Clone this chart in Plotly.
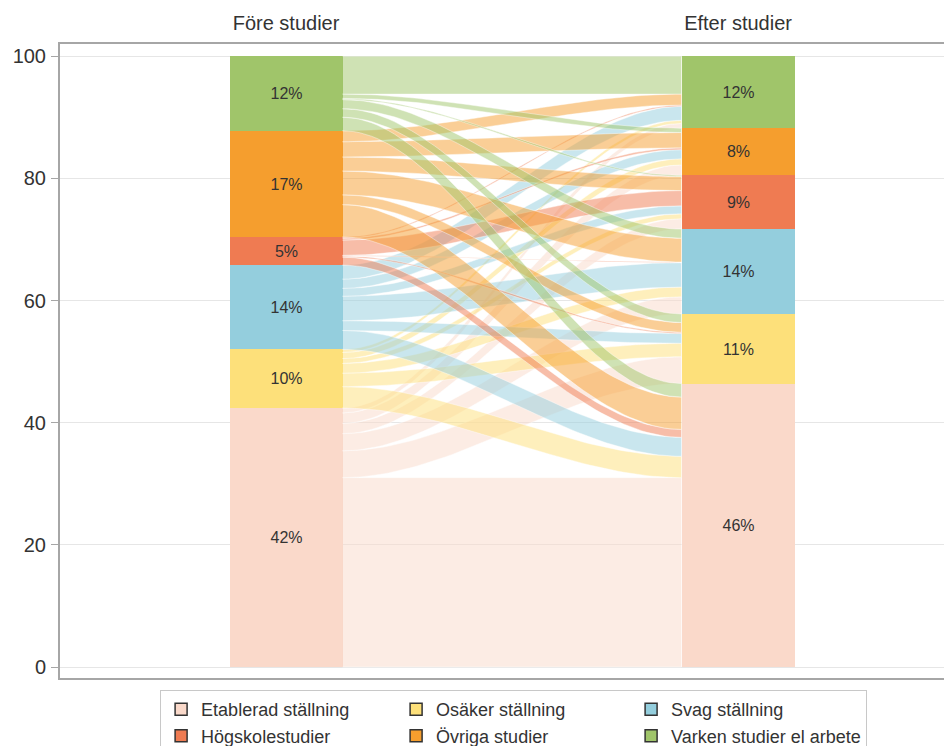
import numpy as np
import plotly.graph_objects as go

# ---------------- data ----------------
categories = ["Etablerad ställning", "Osäker ställning", "Svag ställning",
              "Högskolestudier", "Övriga studier", "Varken studier el arbete"]
stage_labels = ["Före studier", "Efter studier"]
colors = ["#FAD9CA", "#FDE07A", "#94CEDD", "#EF7B52", "#F59E2E", "#A0C56A"]

# flows in percent: each list = one "before" category, values per "after" category
from_etablerad = [31.0, 4.4, 2.8, 1.7, 1.7, 0.8]
from_osaker = [3.5, 2.2, 1.6, 0.8, 1.0, 0.5]
from_svag = [3.1, 1.6, 4.0, 1.3, 1.5, 2.3]
from_hogskole = [1.3, 0.2, 0.1, 2.5, 0.3, 0.2]
from_ovriga = [5.3, 1.6, 3.9, 2.3, 2.5, 1.8]
from_varken = [2.2, 1.4, 1.5, 0.2, 0.7, 6.2]
y_ticks = [0, 20, 40, 60, 80, 100]

flows = [from_etablerad, from_osaker, from_svag, from_hogskole, from_ovriga, from_varken]
n = len(categories)
before = [sum(r) for r in flows]
after = [sum(flows[i][j] for i in range(n)) for j in range(n)]

BAR_W = 0.25


def rgba(hex_color, a):
    h = hex_color.lstrip("#")
    r, g, b = int(h[0:2], 16), int(h[2:4], 16), int(h[4:6], 16)
    return f"rgba({r},{g},{b},{a})"


fig = go.Figure()

# stacked bars
for k in range(n):
    fig.add_trace(go.Bar(
        x=[0, 1], y=[before[k], after[k]], width=BAR_W,
        marker=dict(color=colors[k], line=dict(width=0)),
        text=[f"{round(before[k])}%", f"{round(after[k])}%"],
        textposition="inside", insidetextanchor="middle", textangle=0,
        textfont=dict(size=16, color="#333333"),
        showlegend=False, hoverinfo="skip",
    ))

# flows
src_base = np.concatenate([[0], np.cumsum(before)[:-1]])
tgt_base = np.concatenate([[0], np.cumsum(after)[:-1]])
src_off = list(src_base)
tgt_off = list(tgt_base)
x0, x1 = 0 + BAR_W / 2, 1 - BAR_W / 2
t = np.linspace(0, 1, 60)
s = t * t * (3 - 2 * t)
xs = x0 + (x1 - x0) * t
for i in range(n):
    for j in range(n):
        v = flows[i][j]
        sy0 = src_off[i]; sy1 = sy0 + v; src_off[i] = sy1
        ty0 = tgt_off[j]; ty1 = ty0 + v; tgt_off[j] = ty1
        if v <= 0:
            continue
        top = sy1 + (ty1 - sy1) * s
        bot = sy0 + (ty0 - sy0) * s
        fig.add_trace(go.Scatter(
            x=np.concatenate([xs, xs[::-1]]),
            y=np.concatenate([top, bot[::-1]]),
            mode="lines", fill="toself",
            fillcolor=rgba(colors[i], 0.5),
            line=dict(color="rgba(255,255,255,0.7)", width=0.6),
            showlegend=False, hoverinfo="skip",
        ))

# legend entries
for k in range(n):
    fig.add_trace(go.Scatter(
        x=[None], y=[None], mode="markers", name=categories[k],
        marker=dict(symbol="square", size=12, color=colors[k],
                    line=dict(color="#333333", width=1.5)),
    ))

fig.update_layout(
    width=952, height=746,
    margin=dict(l=52, r=0, t=36, b=76, autoexpand=False),
    paper_bgcolor="white", plot_bgcolor="white",
    font=dict(family="Liberation Sans, Arial, sans-serif", color="#333333"),
    barmode="stack", bargap=0,
    hovermode=False,
    xaxis=dict(range=[-0.5, 1.491], tickvals=[0, 1], ticktext=stage_labels,
               side="top", showgrid=False, zeroline=False, showline=True,
               linecolor="#A6A6A6", linewidth=2, mirror=True, ticks="",
               tickfont=dict(size=20, color="#333333"), ticklabelstandoff=4),
    yaxis=dict(range=[-1.8, 102], tickvals=y_ticks, showgrid=True,
               gridcolor="#E6E6E6", gridwidth=1, zeroline=False,
               showline=True, linecolor="#A6A6A6", linewidth=2,
               ticks="outside", ticklen=7, tickcolor="#A6A6A6",
               tickfont=dict(size=20, color="#333333"), ticklabelstandoff=1),
    legend=dict(orientation="h", x=0.504, xanchor="center", y=-0.019,
                yanchor="top", bordercolor="#C8C8C8", borderwidth=1,
                font=dict(size=18, color="#333333"),
                entrywidth=190, entrywidthmode="pixels", traceorder="normal"),
)

fig.write_html("out.html")
